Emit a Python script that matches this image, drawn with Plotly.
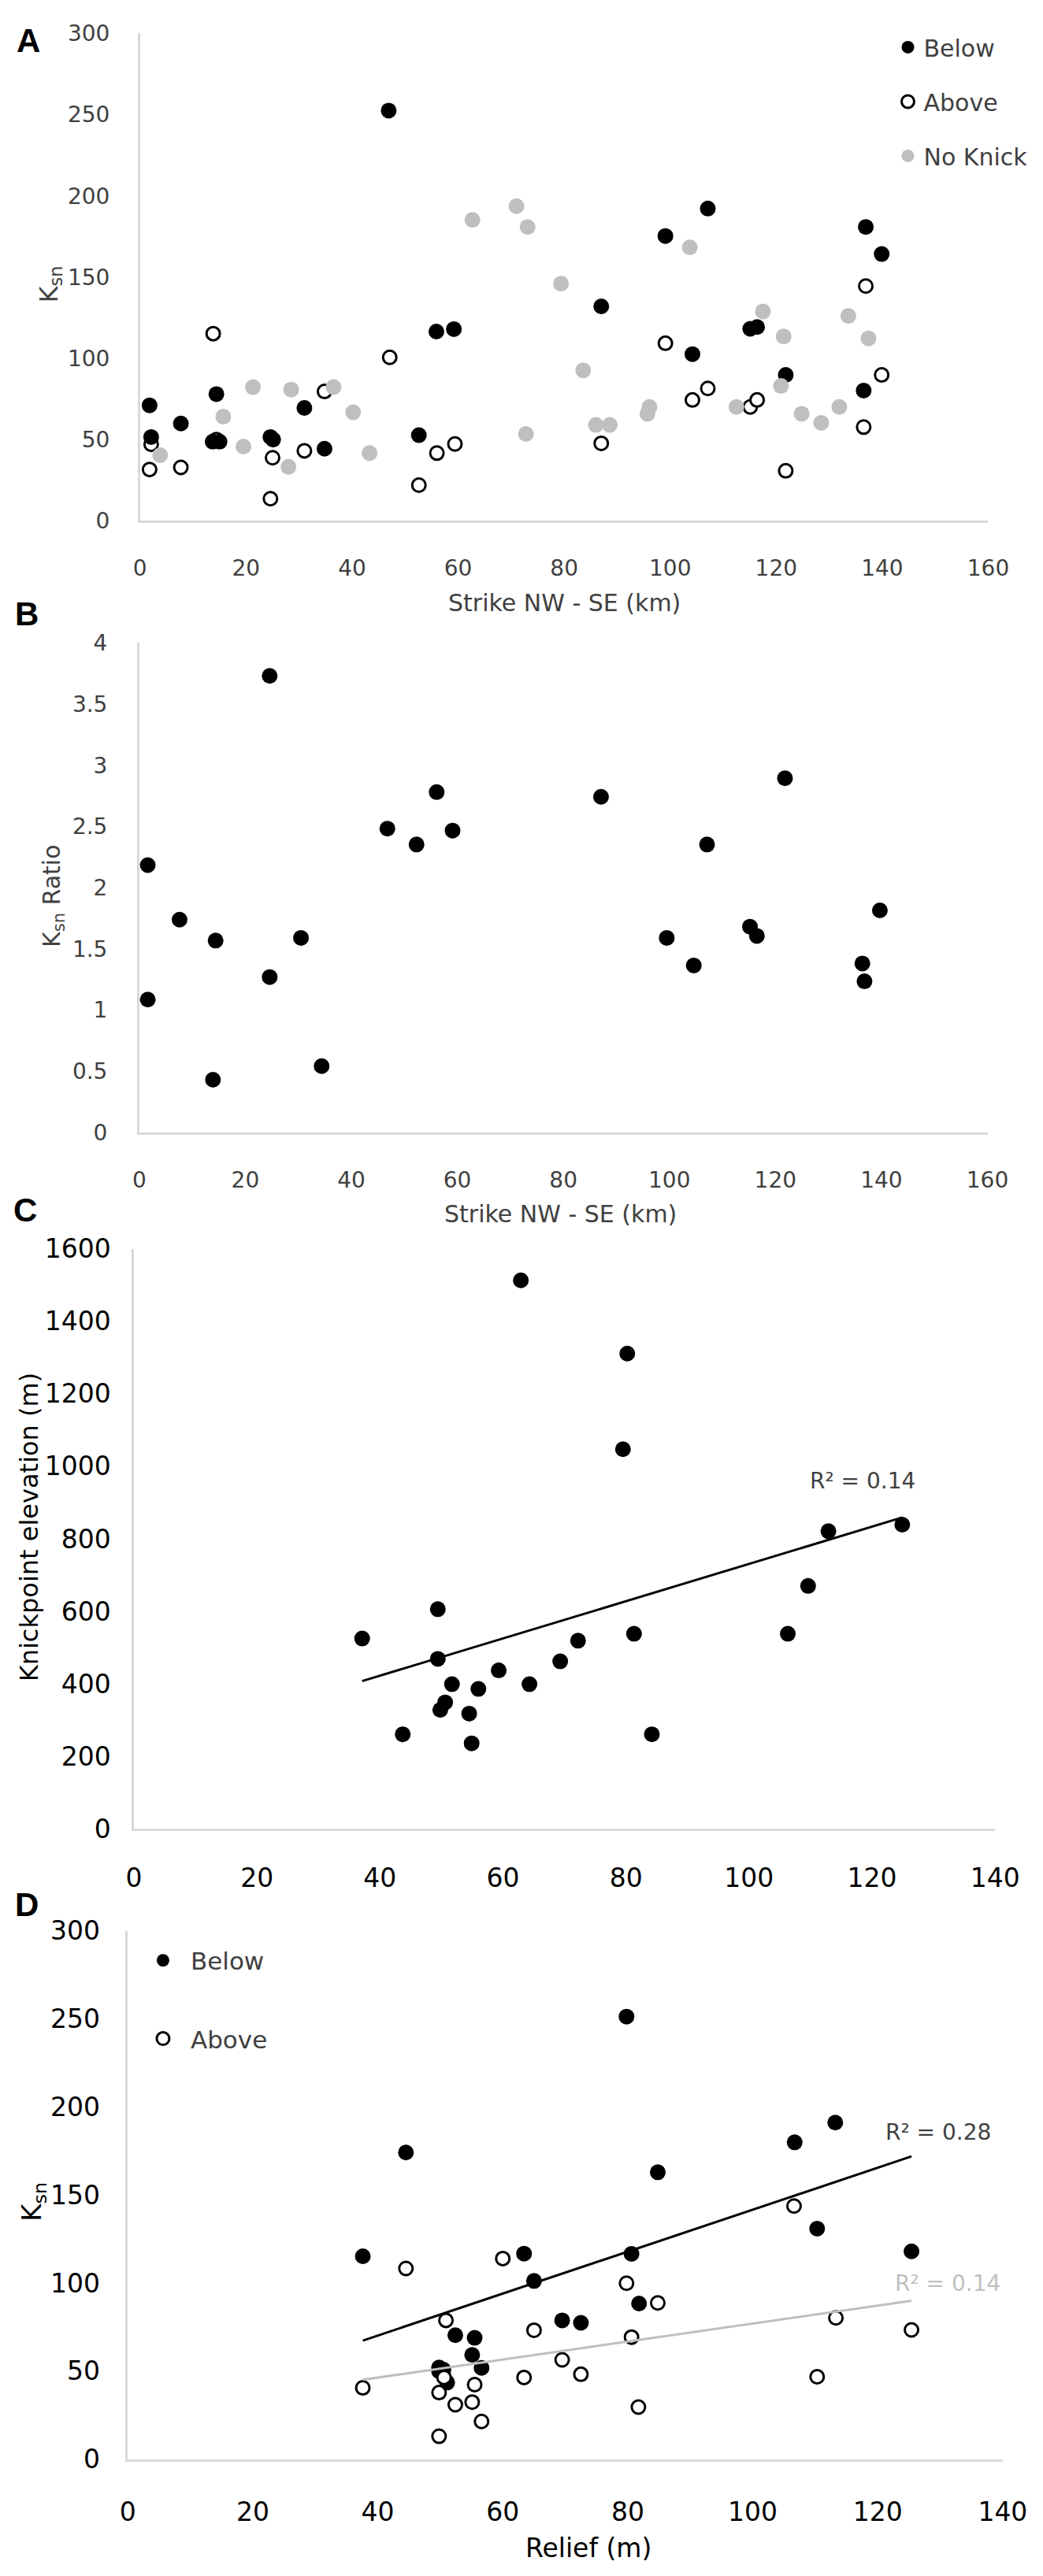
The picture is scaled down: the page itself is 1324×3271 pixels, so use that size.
import numpy as np
import plotly.graph_objects as go

W, H = 1324, 3271

# ---------------- Panel A: Ksn vs strike ----------------
a_below_x = [1.8, 2.1, 7.7, 14.4, 13.7, 15.0, 24.6, 25.1, 31.0, 34.8, 46.9, 52.6, 55.9, 59.2,
             87.0, 99.1, 104.2, 107.1, 115.1, 116.4, 121.8, 136.9, 139.9, 136.5]
a_below_y = [71.1, 51.6, 59.9, 78.0, 48.7, 48.7, 51.6, 50.0, 69.5, 44.4, 252.5, 52.7, 116.5, 118.0,
             132.0, 175.3, 102.6, 192.2, 118.2, 119.3, 89.8, 180.9, 164.2, 80.2]
a_above_x = [1.8, 2.1, 7.7, 13.8, 14.4, 24.6, 25.0, 31.0, 34.8, 47.1, 52.6, 56.0, 59.4,
             87.0, 99.1, 104.2, 107.1, 115.1, 116.4, 121.8, 136.9, 139.9, 136.5]
a_above_y = [31.6, 47.1, 32.9, 115.2, 50.0, 13.6, 38.8, 43.1, 79.6, 100.6, 22.0, 41.7, 47.3,
             47.7, 109.3, 74.4, 81.5, 70.1, 74.4, 30.8, 144.5, 89.8, 57.7]
a_noknick_x = [3.8, 15.7, 19.5, 21.3, 28.0, 28.5, 36.5, 40.2, 43.3, 62.7, 71.0, 73.1, 72.8, 79.4,
               83.6, 86.0, 88.6, 95.7, 96.1, 103.7, 112.5, 117.5, 120.9, 121.4, 124.8, 128.5,
               131.9, 133.6, 137.4]
a_noknick_y = [40.4, 64.1, 45.7, 82.3, 33.2, 80.8, 82.3, 66.8, 41.7, 185.2, 193.7, 180.9, 53.5, 146.0,
               92.6, 59.0, 59.0, 65.9, 70.1, 168.3, 70.1, 128.9, 83.0, 113.5, 65.9, 60.3,
               70.1, 126.1, 112.3]

# ---------------- Panel B: Ksn ratio vs strike ----------------
b_x = [1.6, 1.6, 7.6, 14.4, 13.9, 24.6, 24.6, 30.5, 34.4, 46.8, 52.3, 56.1, 59.1,
       87.1, 121.8, 107.1, 139.7, 99.5, 104.6, 115.2, 116.5, 136.4, 136.8]
b_y = [2.185, 1.086, 1.739, 1.568, 0.431, 3.731, 1.27, 1.59, 0.542, 2.483, 2.353, 2.781, 2.467,
       2.743, 2.895, 2.353, 1.815, 1.59, 1.365, 1.682, 1.606, 1.381, 1.235]

# ---------------- Panel C: knickpoint elevation vs relief ----------------
c_x = [62.9, 49.4, 37.1, 49.4, 59.3, 51.7, 56.0, 64.3, 50.6, 49.8, 54.5, 43.7, 54.9,
       80.2, 79.5, 112.9, 124.9, 109.6, 106.3, 81.3, 72.2, 69.3, 84.2]
c_y = [1513, 606, 525, 469, 437, 399, 386, 399, 349, 328, 318, 261, 236,
       1311, 1047, 821, 839, 670, 538, 538, 519, 462, 261]
c_r2 = "R² = 0.14"

# ---------------- Panel D: Ksn vs relief ----------------
d_below_x = [37.6, 44.5, 49.8, 49.8, 50.5, 51.1, 52.4, 55.1, 55.5, 56.6, 63.4, 65.0, 69.5, 72.5,
             79.8, 80.6, 81.8, 84.8, 106.7, 110.3, 113.2, 125.4]
d_below_y = [115.2, 174.1, 52.0, 50.0, 50.8, 43.5, 70.4, 59.2, 68.9, 51.8, 116.7, 101.2, 78.8, 77.4,
             251.3, 116.6, 88.4, 162.9, 179.9, 130.9, 191.1, 118.0]
d_above_x = [37.6, 44.5, 49.8, 49.8, 50.6, 50.9, 52.4, 55.1, 55.5, 56.6, 60.0, 63.4, 65.0, 69.5,
             72.5, 79.8, 80.6, 81.7, 84.8, 106.6, 110.3, 113.3, 125.4]
d_above_y = [40.5, 108.3, 37.8, 13.0, 46.4, 78.8, 30.9, 32.4, 42.3, 21.4, 113.9, 46.4, 73.2, 56.4,
             48.2, 99.9, 69.3, 29.6, 88.7, 143.7, 46.8, 80.2, 73.4]
d_r2_below = "R² = 0.28"
d_r2_above = "R² = 0.14"

# ---------------- styling ----------------
FONT = "DejaVu Sans"
GREY_TXT = "#404040"
AXIS_LINE = "#d9d9d9"
GREY_PT = "#bfbfbf"


def px_x(p):
    return p / W


def px_y(p):
    return 1 - p / H


def fit_line(x, y):
    x = np.asarray(x, float)
    y = np.asarray(y, float)
    k, b = np.polyfit(x, y, 1)
    xs = np.array([x.min(), x.max()])
    return xs, k * xs + b


fig = go.Figure()

# Panel A (drawing order: Above under Below, No Knick on top)
fig.add_trace(go.Scatter(x=a_above_x, y=a_above_y, mode="markers", name="Above",
                         legendgroup="a2", legendrank=2, legend="legend",
                         marker=dict(symbol="circle", size=17, color="white",
                                     line=dict(color="black", width=3)),
                         xaxis="x", yaxis="y"))
fig.add_trace(go.Scatter(x=a_below_x, y=a_below_y, mode="markers", name="Below",
                         legendgroup="a1", legendrank=1, legend="legend",
                         marker=dict(symbol="circle", size=20, color="black", line=dict(width=0)),
                         xaxis="x", yaxis="y"))
fig.add_trace(go.Scatter(x=a_noknick_x, y=a_noknick_y, mode="markers", name="No Knick",
                         legendgroup="a3", legendrank=3, legend="legend",
                         marker=dict(symbol="circle", size=20, color=GREY_PT, line=dict(width=0)),
                         xaxis="x", yaxis="y"))

# Panel B
fig.add_trace(go.Scatter(x=b_x, y=b_y, mode="markers", showlegend=False,
                         marker=dict(symbol="circle", size=20, color="black", line=dict(width=0)),
                         xaxis="x2", yaxis="y2"))

# Panel C
fig.add_trace(go.Scatter(x=c_x, y=c_y, mode="markers", showlegend=False,
                         marker=dict(symbol="circle", size=20, color="black", line=dict(width=0)),
                         xaxis="x3", yaxis="y3"))
cx, cy = fit_line(c_x, c_y)
fig.add_trace(go.Scatter(x=cx, y=cy, mode="lines", showlegend=False,
                         line=dict(color="black", width=3), xaxis="x3", yaxis="y3"))

# Panel D
fig.add_trace(go.Scatter(x=d_below_x, y=d_below_y, mode="markers", name="Below",
                         legendgroup="d1", legend="legend2",
                         marker=dict(symbol="circle", size=20, color="black", line=dict(width=0)),
                         xaxis="x4", yaxis="y4"))
fig.add_trace(go.Scatter(x=d_above_x, y=d_above_y, mode="markers", name="Above",
                         legendgroup="d2", legend="legend2",
                         marker=dict(symbol="circle", size=17, color="white",
                                     line=dict(color="black", width=3)),
                         xaxis="x4", yaxis="y4"))
dbx, dby = fit_line(d_below_x, d_below_y)
fig.add_trace(go.Scatter(x=dbx, y=dby, mode="lines", showlegend=False,
                         line=dict(color="black", width=3), xaxis="x4", yaxis="y4"))
dax, day = fit_line(d_above_x, d_above_y)
fig.add_trace(go.Scatter(x=dax, y=day, mode="lines", showlegend=False,
                         line=dict(color=GREY_PT, width=3), xaxis="x4", yaxis="y4"))


def axis(domain, rng, dtick, anchor, ticklen, size, color):
    return dict(domain=domain, range=rng, dtick=dtick, tick0=0, anchor=anchor,
                showline=True, linecolor=AXIS_LINE, linewidth=2.5, showgrid=False,
                zeroline=False, ticks="outside", ticklen=ticklen, tickcolor="rgba(0,0,0,0)",
                tickfont=dict(family=FONT, size=size, color=color), fixedrange=True)


layout = dict(
    width=W, height=H, margin=dict(l=0, r=0, t=0, b=0),
    paper_bgcolor="white", plot_bgcolor="white",
    font=dict(family=FONT, color=GREY_TXT),
    xaxis=axis([px_x(165), px_x(1277)], [0, 160], 20, "y", 33, 28, GREY_TXT),
    yaxis=axis([px_y(642), px_y(15.6)], [0, 300], 50, "x", 30, 28, GREY_TXT),
    xaxis2=axis([px_x(164), px_x(1276)], [0, 160], 20, "y2", 34, 28, GREY_TXT),
    yaxis2=axis([px_y(1428), px_y(799)], [0, 4], 0.5, "x2", 32, 28, GREY_TXT),
    xaxis3=axis([px_x(157), px_x(1286)], [0, 140], 20, "y3", 31, 33, "black"),
    yaxis3=axis([px_y(2323), px_y(1577.5)], [0, 1600], 200, "x3", 20, 33, "black"),
    xaxis4=axis([px_x(149), px_x(1296)], [0, 140], 20, "y4", 36, 33, "black"),
    yaxis4=axis([px_y(3133), px_y(2454)], [0, 300], 50, "x4", 26, 33, "black"),
    legend=dict(x=px_x(1151), y=px_y(7), xanchor="left", yanchor="top",
                bgcolor="rgba(0,0,0,0)", borderwidth=0, traceorder="grouped",
                tracegroupgap=27, font=dict(family=FONT, size=30, color=GREY_TXT),
                itemclick=False),
    legend2=dict(x=px_x(159), y=px_y(2465), xanchor="left", yanchor="top",
                 bgcolor="rgba(0,0,0,0)", borderwidth=0, traceorder="grouped",
                 tracegroupgap=56, itemwidth=60,
                 font=dict(family=FONT, size=31, color=GREY_TXT), itemclick=False),
    showlegend=True,
)
fig.update_layout(**layout)

ann = []


def text(t, x, y, size, color=GREY_TXT, angle=0, bold=False, family=FONT):
    ann.append(dict(text=f"<b>{t}</b>" if bold else t, x=px_x(x), y=px_y(y),
                    xref="paper", yref="paper", showarrow=False, textangle=angle,
                    xanchor="center", yanchor="middle",
                    font=dict(family=family, size=size, color=color)))


# panel letters
text("A", 19, 25, 42, "black", bold=True, family="Liberation Sans")
text("B", 17, 762, 42, "black", bold=True, family="Liberation Sans")
text("C", 14, 1528, 42, "black", bold=True, family="Liberation Sans")
text("D", 17, 2420, 42, "black", bold=True, family="Liberation Sans")

# axis titles
text("K<sub>sn</sub>", 47, 338, 32, GREY_TXT, angle=-90)
text("Strike NW - SE (km)", 721, 747, 30, GREY_TXT)
text("K<sub>sn</sub> Ratio", 51, 1124, 30, GREY_TXT, angle=-90)
text("Strike NW - SE (km)", 716, 1533, 30, GREY_TXT)
text("Knickpoint elevation (m)", 20, 1935, 32, "black", angle=-90)
text("K<sub>sn</sub>", 25, 2802, 34, "black", angle=-90)
text("Relief (m)", 753, 3247, 33, "black")

# R² labels
text(c_r2, 1112, 1876, 28, GREY_TXT)
text(d_r2_below, 1211, 2713, 28, GREY_TXT)
text(d_r2_above, 1224, 2907, 28, GREY_PT)

fig.update_layout(annotations=ann)
fig.write_html("out.html")
